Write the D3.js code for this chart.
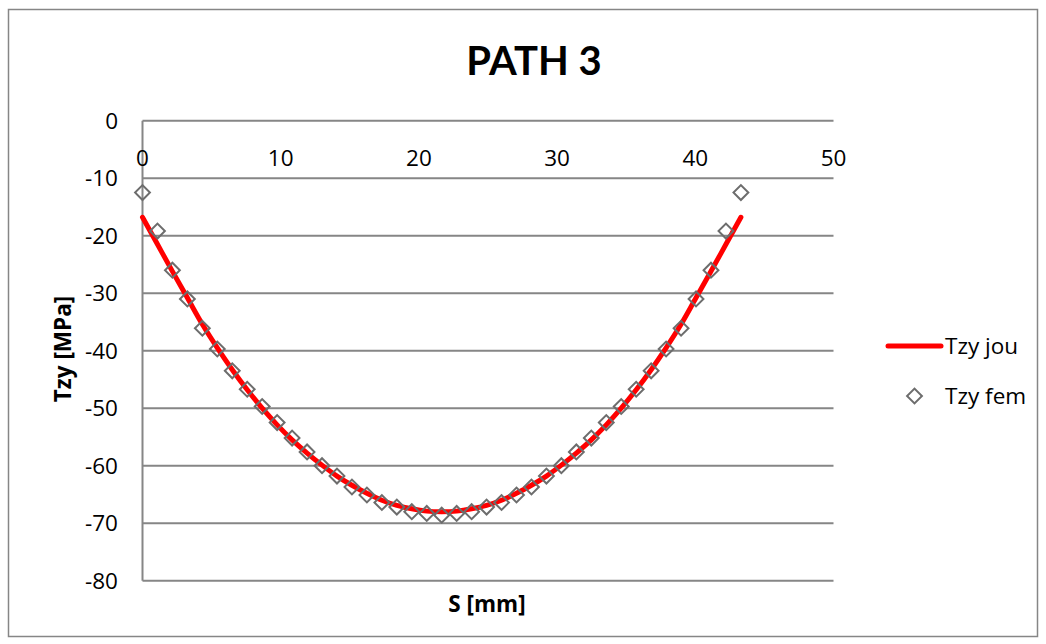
<!DOCTYPE html>
<html>
<head>
<meta charset="utf-8">
<script src="https://cdn.jsdelivr.net/npm/d3@7"></script>
<style>
  body { margin: 0; background: #fff; }
  svg text { font-family: "Open Sans", Lato, sans-serif; fill: #000; }
  svg text.title { font-family: Lato, "Open Sans", sans-serif; }
</style>
</head>
<body>
<div id="chart"></div>
<script>

// ---- data ----
var step = 43.3 / 40;  // sample spacing along the path [mm]
var sIndex = d3.range(41);
var tzyFem = [-12.5, -19.2, -26.0, -31.0, -36.1, -39.7, -43.5, -46.7, -49.7, -52.5,
              -55.2, -57.6, -60.0, -61.8, -63.7, -65.1, -66.4, -67.2, -68.0, -68.3,
              -68.6,
              -68.3, -68.0, -67.2, -66.4, -65.1, -63.7, -61.8, -60.0, -57.6, -55.2,
              -52.5, -49.7, -46.7, -43.5, -39.7, -36.1, -31.0, -26.0, -19.2, -12.5];
var tzyJou = [-16.8, -21.5, -26.2, -30.8, -35.4, -39.5, -43.3, -46.8, -50.0, -52.9,
              -55.5, -57.8, -59.9, -61.8, -63.4, -64.8, -66.0, -66.9, -67.5, -67.9,
              -68.0,
              -67.9, -67.5, -66.9, -66.0, -64.8, -63.4, -61.8, -59.9, -57.8, -55.5,
              -52.9, -50.0, -46.8, -43.3, -39.5, -35.4, -30.8, -26.2, -21.5, -16.8];
var xTicks = [0, 10, 20, 30, 40, 50];
var yTicks = [0, -10, -20, -30, -40, -50, -60, -70, -80];
var legendNames = ["Tzy jou", "Tzy fem"];

// ---- layout ----
var W = 1046, H = 644;
var plot = { left: 142.5, right: 833.5, top: 120.7, bottom: 580.7 };
var gridColor = "#868686";
var labelSize = 22.5;

var svg = d3.select("#chart").append("svg")
  .attr("width", W).attr("height", H);

// outer chart frame
svg.append("rect")
  .attr("x", 8.5).attr("y", 9.5)
  .attr("width", 1029).attr("height", 627)
  .attr("fill", "#fff").attr("stroke", gridColor).attr("stroke-width", 1.5);

var x = d3.scaleLinear().domain([0, 50]).range([plot.left, plot.right]);
var y = d3.scaleLinear().domain([-80, 0]).range([plot.bottom, plot.top]);

// horizontal gridlines
svg.append("g").selectAll("line")
  .data(yTicks).enter().append("line")
  .attr("x1", plot.left).attr("x2", plot.right)
  .attr("y1", function (d) { return y(d); })
  .attr("y2", function (d) { return y(d); })
  .attr("stroke", gridColor).attr("stroke-width", 2);

// vertical axis line at x = 0
svg.append("line")
  .attr("x1", x(0)).attr("x2", x(0))
  .attr("y1", plot.top).attr("y2", plot.bottom)
  .attr("stroke", gridColor).attr("stroke-width", 2);

// y tick labels
svg.append("g").selectAll("text")
  .data(yTicks).enter().append("text")
  .attr("x", 118)
  .attr("y", function (d) { return y(d); })
  .attr("dy", "0.35em")
  .attr("text-anchor", "end")
  .attr("font-size", labelSize)
  .text(function (d) { return d; });

// x tick labels (axis crosses at y = 0, labels sit just below it)
svg.append("g").selectAll("text")
  .data(xTicks).enter().append("text")
  .attr("x", function (d) { return x(d); })
  .attr("y", 158)
  .attr("dy", "0.35em")
  .attr("text-anchor", "middle")
  .attr("font-size", labelSize)
  .text(function (d) { return d; });

// titles
svg.append("text")
  .attr("class", "title")
  .attr("x", 534).attr("y", 61).attr("dy", "0.35em")
  .attr("text-anchor", "middle")
  .attr("font-size", 40).attr("font-weight", "bold")
  .text("PATH 3");

svg.append("text")
  .attr("x", 487).attr("y", 604).attr("dy", "0.35em")
  .attr("text-anchor", "middle")
  .attr("font-size", 22.5).attr("font-weight", "bold")
  .text("S [mm]");

svg.append("text")
  .attr("transform", "translate(63,349) rotate(-90)")
  .attr("dy", "0.35em")
  .attr("text-anchor", "middle")
  .attr("font-size", 22.5).attr("font-weight", "bold")
  .text("Tzy [MPa]");

// ---- series ----
var line = d3.line()
  .x(function (i) { return x(i * step); })
  .y(function (i) { return y(tzyJou[i]); })
  .curve(d3.curveCatmullRom);

svg.append("path")
  .datum(sIndex)
  .attr("d", line)
  .attr("fill", "none")
  .attr("stroke", "#ff0000")
  .attr("stroke-width", 5)
  .attr("stroke-linecap", "round");

var diamond = d3.symbol().type(d3.symbolSquare).size(110);

svg.append("g").selectAll("path")
  .data(sIndex).enter().append("path")
  .attr("d", diamond)
  .attr("transform", function (i) {
    return "translate(" + x(i * step) + "," + y(tzyFem[i]) + ") rotate(45)";
  })
  .attr("fill", "none")
  .attr("stroke", "#6d6d6d")
  .attr("stroke-width", 2);

// ---- legend ----
var lg = svg.append("g");
lg.append("line")
  .attr("x1", 888).attr("x2", 941)
  .attr("y1", 346).attr("y2", 346)
  .attr("stroke", "#ff0000").attr("stroke-width", 5)
  .attr("stroke-linecap", "round");
lg.append("path")
  .attr("d", diamond)
  .attr("transform", "translate(914.5,396) rotate(45)")
  .attr("fill", "none").attr("stroke", "#6d6d6d").attr("stroke-width", 2);
lg.selectAll("text")
  .data(legendNames).enter().append("text")
  .attr("x", 945)
  .attr("y", function (d, i) { return 346 + i * 50; })
  .attr("dy", "0.35em")
  .attr("font-size", labelSize)
  .text(function (d) { return d; });

</script>
</body>
</html>
